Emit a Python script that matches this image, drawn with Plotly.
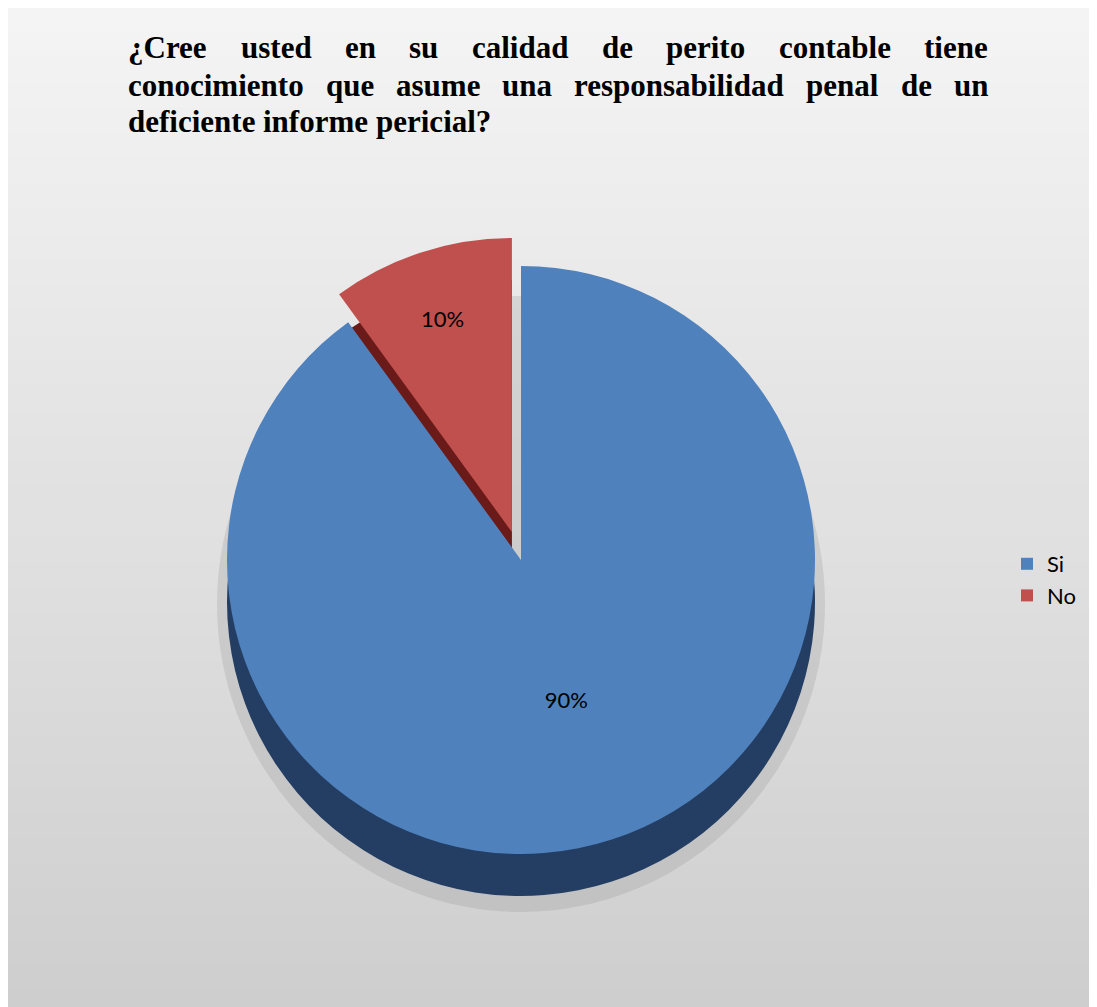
import plotly.graph_objects as go

# ---- data ----
labels = ["Si", "No"]
values = [90, 10]
title_lines = [
    "¿Cree usted en su calidad de perito contable tiene",
    "conocimiento que asume una responsabilidad penal de un",
    "deficiente informe pericial?",
]

# ---- styling ----
W, H = 1097, 1007
OFF = 8  # page body margin
top_colors = ["#4F81BD", "#C0504D"]
side_colors = ["#233E62", "#6A1B19"]
TITLE_FONT = 31
TITLE_LEFT, TITLE_RIGHT = 127, 987
BASELINES = [58, 96, 132]

# Times-Bold character widths (1/1000 em) for justification
tw = {' ': 250, '¿': 500, '?': 500, 'C': 722, 'a': 500, 'b': 556, 'c': 444, 'd': 556,
      'e': 444, 'f': 333, 'i': 278, 'l': 278, 'm': 833, 'n': 556, 'o': 500, 'p': 556,
      'q': 556, 'r': 444, 's': 389, 't': 333, 'u': 556}


def wwidth(w):
    return sum(tw.get(ch, 500) for ch in w) / 1000 * TITLE_FONT


def px_x(x):
    return (x - OFF) / W


def px_y(y):
    return 1 - (y - OFF) / H


fig = go.Figure()

R = 294
pull = 0.1
cx, cy = 521, 560
depth = 42
half = R * (1 + pull)

# 3D side (darker copy, shifted down)
fig.add_trace(go.Pie(
    labels=labels, values=values, sort=False, direction="clockwise", rotation=0,
    pull=[0, pull], marker=dict(colors=side_colors, line=dict(width=0)),
    textinfo="none", hoverinfo="skip", showlegend=False,
    domain=dict(x=[px_x(cx - half), px_x(cx + half)],
                y=[px_y(cy + depth + half), px_y(cy + depth - half)]),
))
# top surface
fig.add_trace(go.Pie(
    labels=labels, values=values, sort=False, direction="clockwise", rotation=0,
    pull=[0, pull], marker=dict(colors=top_colors, line=dict(width=0)),
    texttemplate="%{percent:.0%}", textposition="inside", insidetextorientation="horizontal",
    textfont=dict(family="Lato, Open Sans, sans-serif", size=22, color="black"),
    domain=dict(x=[px_x(cx - half), px_x(cx + half)],
                y=[px_y(cy + half), px_y(cy - half)]),
))

# background gradient (overlapping bands to avoid seams) + frame
shapes = []
n = 40
top_y, bot_y = 7, H + OFF
for i in range(n):
    y0 = top_y + (bot_y - top_y) * i / n
    t = i / (n - 1)
    g = int(round(244 - (244 - 206) * t))
    shapes.append(dict(type="rect", xref="paper", yref="paper", layer="below",
                       x0=px_x(7), x1=px_x(W + OFF), y0=px_y(bot_y), y1=px_y(y0),
                       line=dict(width=0), fillcolor=f"rgb({g},{g},{g})"))
shapes.append(dict(type="rect", xref="paper", yref="paper", layer="below",
                   x0=px_x(6), x1=px_x(W + OFF + 4), y0=px_y(H + OFF + 4), y1=px_y(6),
                   line=dict(width=1.5, color="#BEBEBE"), fillcolor="rgba(0,0,0,0)"))
# soft shadow under pie
shapes.append(dict(type="circle", xref="paper", yref="paper", layer="below",
                   x0=px_x(cx - R - 10), x1=px_x(cx + R + 10),
                   y0=px_y(cy + depth + R + 16), y1=px_y(cy - R + 30),
                   line=dict(width=0), fillcolor="rgba(120,120,120,0.18)"))

# justified title
annotations = []
for li, line in enumerate(title_lines):
    words = line.split(" ")
    widths = [wwidth(w) for w in words]
    ymid = BASELINES[li] - 0.33 * TITLE_FONT
    if li < len(title_lines) - 1:
        gap = (TITLE_RIGHT - TITLE_LEFT - sum(widths)) / (len(words) - 1)
    else:
        gap = tw[' '] / 1000 * TITLE_FONT
    x = TITLE_LEFT
    for w, wd in zip(words, widths):
        annotations.append(dict(
            text=f"<b>{w}</b>", xref="paper", yref="paper",
            x=px_x(x), y=px_y(ymid), xanchor="left", yanchor="middle",
            showarrow=False, borderpad=0,
            font=dict(family="Liberation Serif, Times New Roman, serif",
                      size=TITLE_FONT, color="black"),
        ))
        x += wd + gap

fig.update_layout(
    width=W, height=H, autosize=False,
    margin=dict(l=0, r=0, t=0, b=0),
    paper_bgcolor="white", plot_bgcolor="white",
    shapes=shapes, annotations=annotations,
    legend=dict(x=px_x(1007), y=px_y(580), xanchor="left", yanchor="middle",
                font=dict(family="Lato, Open Sans, sans-serif", size=22, color="black"),
                bgcolor="rgba(0,0,0,0)"),
)

fig.write_html("out.html")
